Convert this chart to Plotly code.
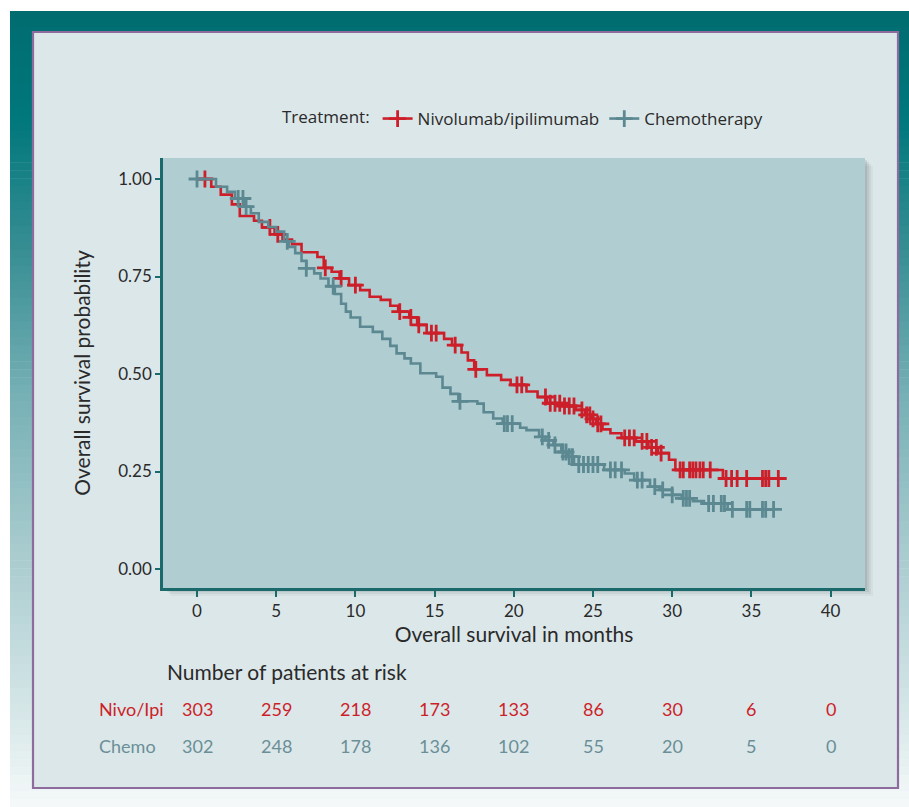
import plotly.graph_objects as go

# ---------------- DATA ----------------
nivo_event_t = [0.0, 0.9, 1.5, 2.2, 2.7, 3.6, 4.1, 4.9, 5.4, 6.0, 6.6, 7.6, 8.0, 8.5, 9.0,
                9.6, 10.3, 10.9, 11.6, 12.2, 12.7, 13.4, 13.9, 14.5, 15.6, 16.1, 16.7, 17.1,
                17.5, 18.3, 19.2, 19.8, 20.8, 21.5, 22.1, 23.1, 23.9, 24.5, 24.9, 25.2, 25.6,
                26.1, 26.8, 27.7, 28.5, 29.1, 29.8, 30.2, 33.2]
nivo_event_s = [1.000, 0.980, 0.960, 0.935, 0.905, 0.893, 0.876, 0.858, 0.845, 0.833, 0.812,
                0.800, 0.772, 0.762, 0.745, 0.728, 0.715, 0.698, 0.690, 0.675, 0.660, 0.645,
                0.626, 0.605, 0.590, 0.574, 0.555, 0.535, 0.512, 0.497, 0.485, 0.472, 0.455,
                0.441, 0.425, 0.418, 0.408, 0.395, 0.385, 0.372, 0.358, 0.348, 0.336, 0.327,
                0.312, 0.297, 0.280, 0.254, 0.232]
nivo_end_t = 36.9
nivo_censor_t = [0.5, 4.6, 5.1, 8.1, 9.1, 10.0, 12.8, 13.5, 14.0, 14.8, 15.1, 16.3, 17.6,
                 20.2, 20.5, 22.0, 22.3, 22.6, 22.9, 23.2, 23.5, 23.8, 24.3, 24.6, 24.8,
                 25.0, 25.3, 25.5, 27.0, 27.3, 27.6, 28.1, 28.4, 28.7, 29.0, 29.3, 30.5,
                 30.7, 31.1, 31.3, 31.5, 31.75, 31.96, 32.4, 33.4, 33.75, 34.1, 34.7, 35.7,
                 35.9, 36.1, 36.7]

chemo_event_t = [0.0, 1.2, 1.9, 2.4, 3.0, 3.4, 3.9, 4.5, 5.0, 5.5, 5.8, 6.2, 6.6, 6.9, 7.4,
                 7.8, 8.3, 8.7, 9.1, 9.4, 9.7, 10.3, 11.1, 11.7, 12.2, 12.6, 13.1, 13.5, 14.1,
                 15.1, 15.5, 16.0, 16.5, 17.7, 18.1, 18.7, 19.3, 20.4, 20.8, 21.6, 22.0, 22.5,
                 23.0, 23.4, 23.8, 25.7, 27.0, 27.6, 28.6, 29.2, 30.0, 30.6, 31.3, 32.0, 33.5]
chemo_event_s = [1.000, 0.980, 0.967, 0.950, 0.929, 0.912, 0.890, 0.877, 0.865, 0.840, 0.826,
                 0.810, 0.790, 0.771, 0.758, 0.745, 0.725, 0.705, 0.680, 0.660, 0.645, 0.621,
                 0.608, 0.590, 0.572, 0.553, 0.540, 0.527, 0.502, 0.493, 0.465, 0.449, 0.430,
                 0.424, 0.402, 0.386, 0.373, 0.362, 0.356, 0.339, 0.330, 0.318, 0.300, 0.288,
                 0.268, 0.254, 0.245, 0.228, 0.211, 0.203, 0.190, 0.181, 0.174, 0.168, 0.153]
chemo_end_t = 36.4
chemo_censor_t = [0.0, 2.6, 2.9, 3.1, 5.7, 6.9, 8.6, 16.6, 19.4, 19.6, 19.9, 21.8, 22.2, 22.6,
                  23.1, 23.3, 23.5, 23.7, 24.1, 24.4, 24.7, 25.0, 25.3, 26.1, 26.4, 26.8,
                  27.8, 28.1, 28.9, 29.4, 30.0, 30.7, 30.9, 31.1, 32.3, 32.6, 33.1, 33.3,
                  33.8, 34.7, 34.9, 35.7, 35.9, 36.4]

series_names = ["Nivolumab/ipilimumab", "Chemotherapy"]
risk_labels = ["Nivo/Ipi", "Chemo"]
risk_times = [0, 5, 10, 15, 20, 25, 30, 35, 40]
nivo_risk = [303, 259, 218, 173, 133, 86, 30, 6, 0]
chemo_risk = [302, 248, 178, 136, 102, 55, 20, 5, 0]
y_ticks = [0.0, 0.25, 0.5, 0.75, 1.0]
x_ticks = [0, 5, 10, 15, 20, 25, 30, 35, 40]

# ---------------- STYLE ----------------
RED = "#cc1f2a"
GREY = "#5c8891"
GREY_TXT = "#6a8f97"
TEXT = "#2a2a2a"
AXIS = "#1b6a6b"
FONT = "Lato"
LEG_FONT = "Open Sans"

W, H = 909, 807
ML, MR, MT, MB = 163, 44, 158, 219
PW, PH = W - ML - MR, H - MT - MB


def px2x(px):
    return (px - ML) / PW


def py2y(py):
    return (H - MB - py) / PH


def step_at(ts, ss, t):
    val = ss[0]
    for ti, si in zip(ts, ss):
        if ti <= t:
            val = si
    return val


fig = go.Figure()

for name, et, es, end_t, ct, col in [
    (series_names[0], nivo_event_t, nivo_event_s, nivo_end_t, nivo_censor_t, RED),
    (series_names[1], chemo_event_t, chemo_event_s, chemo_end_t, chemo_censor_t, GREY),
]:
    fig.add_trace(go.Scatter(
        x=list(et) + [end_t], y=list(es) + [es[-1]], mode="lines",
        line=dict(color=col, width=2.6, shape="hv"), showlegend=False, hoverinfo="skip"))
    fig.add_trace(go.Scatter(
        x=ct, y=[step_at(et, es, t) for t in ct], mode="markers",
        marker=dict(symbol="cross-thin", size=12, line=dict(color=col, width=2.8)),
        showlegend=False, hoverinfo="skip"))

# legend-only entries
for name, col in [(series_names[0], RED), (series_names[1], GREY)]:
    fig.add_trace(go.Scatter(
        x=[None], y=[None], mode="lines+markers", name=name,
        line=dict(color=col, width=2.6),
        marker=dict(symbol="cross-thin", size=12, line=dict(color=col, width=2.8))))

# ---------------- BACKGROUND SHAPES ----------------
shapes = []
stops = [(11, (0, 108, 112)), (120, (0, 120, 124)), (250, (55, 142, 147)),
         (400, (120, 177, 182)), (550, (168, 203, 206)), (700, (210, 228, 230)),
         (807, (245, 249, 249))]


def grad_col(py):
    for (y0, c0), (y1, c1) in zip(stops[:-1], stops[1:]):
        if y0 <= py <= y1:
            f = (py - y0) / (y1 - y0)
            return "rgb(%d,%d,%d)" % tuple(round(a + (b - a) * f) for a, b in zip(c0, c1))
    return "rgb(%d,%d,%d)" % stops[-1][1]


n_bands = 100
top, bot = 11, 807
for i in range(n_bands):
    y0 = top + (bot - top) * i / n_bands
    y1 = top + (bot - top) * (i + 1) / n_bands + 0.6
    shapes.append(dict(type="rect", xref="paper", yref="paper", layer="below",
                       x0=px2x(10), x1=px2x(912), y0=py2y(y0), y1=py2y(y1),
                       fillcolor=grad_col((y0 + y1) / 2), line=dict(width=0)))

# inner panel
shapes.append(dict(type="rect", xref="paper", yref="paper", layer="below",
                   x0=px2x(33), x1=px2x(898), y0=py2y(32), y1=py2y(788),
                   fillcolor="#dce7e9", line=dict(color="#8d6b9c", width=2.2)))

# soft shadow of the plot area
for k, op in [(8, 0.05), (6, 0.07), (4, 0.09), (2, 0.12)]:
    shapes.append(dict(type="rect", xref="paper", yref="paper", layer="below",
                       x0=px2x(163 + k), x1=px2x(865 + k), y0=py2y(158 + k), y1=py2y(588 + k),
                       fillcolor="rgba(60,70,75,%.2f)" % op, line=dict(width=0)))
# plot area
shapes.append(dict(type="rect", xref="paper", yref="paper", layer="below",
                   x0=0, x1=1, y0=0, y1=1, fillcolor="#b0cdd1", line=dict(width=0)))

# ---------------- ANNOTATIONS (risk table) ----------------
ann = []
ann.append(dict(text="Number of patients at risk", xref="paper", yref="paper",
                x=px2x(165), y=py2y(671), xanchor="left", yanchor="middle",
                showarrow=False, font=dict(family=FONT, size=21, color=TEXT)))
for lab, vals, col, py in [(risk_labels[0], nivo_risk, RED, 709),
                           (risk_labels[1], chemo_risk, GREY_TXT, 746)]:
    ann.append(dict(text=lab, xref="paper", yref="paper", x=px2x(97), y=py2y(py),
                    xanchor="left", yanchor="middle", showarrow=False,
                    font=dict(family=FONT, size=18, color=col)))
    for t, v in zip(risk_times, vals):
        ann.append(dict(text=str(v), xref="x", yref="paper", x=t, y=py2y(py),
                        xanchor="center", yanchor="middle", showarrow=False,
                        font=dict(family=FONT, size=18, color=col)))

fig.update_layout(
    width=W, height=H, autosize=False,
    margin=dict(l=ML, r=MR, t=MT, b=MB, pad=0),
    paper_bgcolor="white", plot_bgcolor="rgba(0,0,0,0)",
    font=dict(family=FONT, color=TEXT),
    shapes=shapes, annotations=ann,
    legend=dict(orientation="h", x=px2x(280), y=py2y(119), xanchor="left", yanchor="middle",
                bgcolor="rgba(0,0,0,0)", font=dict(family=LEG_FONT, size=17, color=TEXT),
                title=dict(text="Treatment:", side="left",
                           font=dict(family=LEG_FONT, size=17, color=TEXT)),
                itemwidth=30, tracegroupgap=0),
    xaxis=dict(range=[(163 - 197) / 15.84, (865 - 197) / 15.84], tickvals=x_ticks,
               showgrid=False, zeroline=False, showline=True, linecolor=AXIS, linewidth=2.5,
               ticks="outside", ticklen=6, tickwidth=2, tickcolor=AXIS,
               tickfont=dict(family=FONT, size=17, color=TEXT),
               title=dict(text="Overall survival in months", standoff=3,
                          font=dict(family=FONT, size=21, color=TEXT))),
    yaxis=dict(range=[-(588 - 569) / 390, (569 - 158) / 390], tickvals=y_ticks,
               tickformat=".2f", showgrid=False, zeroline=False, showline=True,
               linecolor=AXIS, linewidth=2.5, ticks="outside", ticklen=5, tickwidth=2,
               tickcolor=AXIS, tickfont=dict(family=FONT, size=17, color=TEXT),
               title=dict(text="Overall survival probability", standoff=22,
                          font=dict(family=FONT, size=21, color=TEXT))),
)

fig.write_html("out.html", config={"displayModeBar": False},
               post_script="document.body.style.margin='0';")
